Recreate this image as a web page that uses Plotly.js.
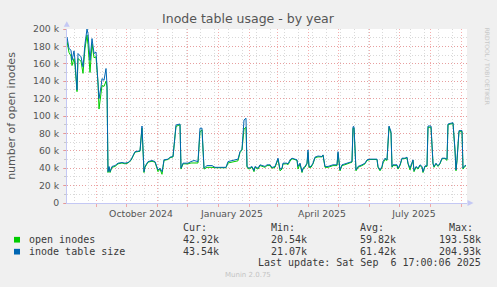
<!DOCTYPE html>
<html>
<head>
<meta charset="utf-8">
<script src="https://cdn.plot.ly/plotly-3.0.1.min.js"></script>
<style>html,body{margin:0;padding:0;background:#F0F0F0;}#chart{width:497px;height:287px;}</style>
</head>
<body>
<div id="chart"></div>
<script>
// ---- data (values in thousands) ----
const dates = [
'2024-08-03','2024-08-05','2024-08-07','2024-08-08','2024-08-10','2024-08-11','2024-08-13','2024-08-14','2024-08-17','2024-08-19',
'2024-08-21','2024-08-23','2024-08-24','2024-08-26','2024-08-28','2024-08-30','2024-09-01','2024-09-03','2024-09-04','2024-09-06',
'2024-09-07','2024-09-09','2024-09-11','2024-09-12','2024-09-13','2024-09-14','2024-09-15','2024-09-17','2024-09-20','2024-09-23',
'2024-09-27','2024-09-30','2024-10-03','2024-10-06','2024-10-08','2024-10-10','2024-10-15','2024-10-16','2024-10-17','2024-10-19',
'2024-10-20','2024-10-23','2024-10-27','2024-10-30','2024-11-01','2024-11-02','2024-11-04','2024-11-06','2024-11-07','2024-11-08',
'2024-11-12','2024-11-14','2024-11-17','2024-11-20','2024-11-24','2024-11-25','2024-11-27','2024-12-02','2024-12-05','2024-12-08',
'2024-12-12','2024-12-14','2024-12-16','2024-12-18','2024-12-21','2024-12-26','2024-12-29','2025-01-05','2025-01-09','2025-01-11',
'2025-01-16','2025-01-21','2025-01-23','2025-01-25','2025-01-27','2025-01-29','2025-01-30','2025-02-01','2025-02-04','2025-02-06',
'2025-02-07','2025-02-10','2025-02-12','2025-02-17','2025-02-19','2025-02-22','2025-02-24','2025-02-27','2025-03-02','2025-03-04',
'2025-03-06','2025-03-07','2025-03-11','2025-03-12','2025-03-14','2025-03-16','2025-03-21','2025-03-22','2025-03-24','2025-03-26',
'2025-03-27','2025-03-29','2025-03-31','2025-04-01','2025-04-02','2025-04-04','2025-04-06','2025-04-08','2025-04-11','2025-04-15',
'2025-04-16','2025-04-18','2025-04-21','2025-04-26','2025-04-30','2025-05-01','2025-05-03','2025-05-05','2025-05-08','2025-05-13',
'2025-05-15','2025-05-16','2025-05-17','2025-05-19','2025-05-21','2025-05-25','2025-05-28','2025-05-30','2025-06-02','2025-06-09',
'2025-06-10','2025-06-12','2025-06-14','2025-06-15','2025-06-17','2025-06-19','2025-06-20','2025-06-21','2025-06-23','2025-06-24',
'2025-06-25','2025-06-29','2025-06-30','2025-07-02','2025-07-04','2025-07-07','2025-07-09','2025-07-10','2025-07-12','2025-07-14',
'2025-07-15','2025-07-16','2025-07-18','2025-07-20','2025-07-22','2025-07-24','2025-07-25','2025-07-27','2025-07-29','2025-07-30',
'2025-08-02','2025-08-04','2025-08-05','2025-08-07','2025-08-09','2025-08-11','2025-08-13','2025-08-16','2025-08-18','2025-08-19',
'2025-08-23','2025-08-24','2025-08-26','2025-08-27','2025-08-28','2025-08-30','2025-09-02','2025-09-03','2025-09-04','2025-09-06'
];
const tableSize = [
190.8,177.5,175.6,164,174.8,164,130,171.8,168,156.5,
183,200,194.7,164,189,171.8,173.6,145,120,133.6,
143,141,154.6,135.5,36,42,36,42,43,45.8,
46.5,45.8,46.5,49.6,54,59,60,78,88.5,36,
42,47.6,48.8,47.6,42,38,40,36,42,49.6,
50.4,52.7,53.4,89.7,90.8,40,45.8,45.8,47.6,48.8,
47.6,86,86,40,43,43,41,41,41,47.6,
48.8,50.4,59,61.8,95.4,97.4,42,40,42,37.3,
42,40,43.9,42,43.9,43.9,40.8,42,51.5,38.9,
40,45.8,45.8,45,49.6,51.5,49.6,42,45.8,36,
40,42,45.8,61,42,42,45.8,52.7,54,53.4,
55.3,42,42,43.9,43.9,59,38,43.9,45,46.5,
47.6,87.7,87.7,38,42,43.9,45.8,49.6,50.4,50.4,
42,38,42,47.6,51.5,49.6,72.5,88.5,82,42,
43.9,43.9,40,43.9,51.5,51.5,52.7,45.8,40,45.8,
49.6,37.3,42,40,43.9,42,36,42.7,42.7,88.5,
88.5,45.8,42,45.8,42.7,45.8,51.5,51.5,50.4,90.8,
91.6,92.3,61,38,49.6,83.2,83.2,40,42,43.54
];
const openInodes = [
186,173,169,158,166,158,128,166,163,149,
178,193,182,150,183,167,168,138,108,127,
135,134,140,133,35,41,35,41,42,45,
46,45,46,49,53,58.5,59.5,76,86,35,
41,47,48,47,40,36,39,33,41,49,
50,52,53,88,90,39,45,45,46,46,
46,82,84,39,41,41,40.5,40.5,40.5,46,
47,48.5,58,61,85,87,41,39,41,36,
41,39,43,41,43,43,40,41,50,37,
39,45,45,44,48,51,49,39,45,35,
39,41,45,58,41,41,45,52,53,53,
55,41,41,43,43,57,37,43,44,46,
47,86,86,37,41,43,45,49,50,50,
41,37,41,46,50,49,70,87,80,41,
43,43,39,43,51,51,52,45,38,45,
49,36,41,39,43,41,35,42,42,87,
87,45,41,45,42,45,51,51,49,90,
91,91.5,60,37,49,82,82,39,41,42.92
];
const seriesNames = ['open inodes', 'inode table size'];
const seriesColors = ['#00CC00', '#0066B3'];
const statHeaders = ['Cur:', 'Min:', 'Avg:', 'Max:'];
const statsOpen = ['42.92k', '20.54k', '59.82k', '193.58k'];
const statsTable = ['43.54k', '21.07k', '61.42k', '204.93k'];
const yTickVals = [0,20,40,60,80,100,120,140,160,180,200];
const yTickText = ['0','20 k','40 k','60 k','80 k','100 k','120 k','140 k','160 k','180 k','200 k'];
const xLabelDates = ['2024-10-16','2025-01-15','2025-04-15','2025-07-16'];
const xLabelText = ['October 2024','January 2025','April 2025','July 2025'];
const monthStarts = ['2024-09-01','2024-10-01','2024-11-01','2024-12-01','2025-01-01','2025-02-01','2025-03-01',
  '2025-04-01','2025-05-01','2025-06-01','2025-07-01','2025-08-01','2025-09-01'];
const xRange = ['2024-08-03', '2025-09-07'];

// ---- layout helpers (pixel -> paper) ----
const L = 67, R = 467, T = 28.7, B = 203.3;
const PX = p => (p - L) / (R - L);
const PY = p => (B - p) / (B - T);

const majorGrid = 'rgba(240,120,120,0.6)';
const minorGrid = '#D9D9D9';
const axisCol = '#C4C8F4';
const txtCol = '#555555';
const mono = 'DejaVu Sans Mono, monospace';

const traces = [
  {x: dates, y: openInodes, xaxis: 'x', yaxis: 'y', type: 'scatter', mode: 'lines',
   line: {color: seriesColors[0], width: 1}, hoverinfo: 'skip'},
  {x: dates, y: tableSize, xaxis: 'x2', yaxis: 'y', type: 'scatter', mode: 'lines',
   line: {color: seriesColors[1], width: 1}, hoverinfo: 'skip'}
];

const ann = [];
function txt(t, x, y, opts) {
  ann.push(Object.assign({text: t, x: PX(x), y: PY(y), xref: 'paper', yref: 'paper',
    showarrow: false, xanchor: 'left', yanchor: 'middle',
    font: {family: mono, size: 10, color: '#3a3a3a'}}, opts || {}));
}
const colX = [181, 269.3, 358.3];
statHeaders.forEach((h, i) => txt(h, i < 3 ? colX[i] : 446.7, 227.7));
txt(seriesNames[0], 26.7, 240);
txt(seriesNames[1], 26.7, 251.7);
statsOpen.forEach((v, i) => i < 3 ? txt(v, colX[i], 240) : txt(v, 483, 240, {xanchor: 'right'}));
statsTable.forEach((v, i) => i < 3 ? txt(v, colX[i], 251.7) : txt(v, 483, 251.7, {xanchor: 'right'}));
txt('Last update: Sat Sep \u00A06 17:00:06 2025', 483, 263.3, {xanchor: 'right'});
txt('Munin 2.0.75', 248, 276, {xanchor: 'center', font: {family: 'DejaVu Sans', size: 7, color: '#C4C4C4'}});
txt('RRDTOOL / TOBI OETIKER', 487.5, 66, {xanchor: 'center', textangle: 90,
  font: {family: 'DejaVu Sans', size: 6, color: '#C8C8C8'}});

const shapes = [
  {type: 'rect', xref: 'paper', yref: 'paper', x0: PX(14), x1: PX(20), y0: PY(243), y1: PY(237.3),
   fillcolor: seriesColors[0], line: {width: 0}},
  {type: 'rect', xref: 'paper', yref: 'paper', x0: PX(14), x1: PX(20), y0: PY(255), y1: PY(249.3),
   fillcolor: seriesColors[1], line: {width: 0}},
  {type: 'path', xref: 'paper', yref: 'paper',
   path: `M ${PX(63.8)} ${PY(26.5)} L ${PX(69.8)} ${PY(26.5)} L ${PX(66.8)} ${PY(21)} Z`,
   fillcolor: axisCol, line: {width: 0}},
  {type: 'path', xref: 'paper', yref: 'paper',
   path: `M ${PX(467.5)} ${PY(200.3)} L ${PX(467.5)} ${PY(206.3)} L ${PX(473.5)} ${PY(203.3)} Z`,
   fillcolor: axisCol, line: {width: 0}}
];

const layout = {
  width: 497, height: 287,
  margin: {l: L, r: 497 - R, t: T, b: 287 - B, pad: 0},
  paper_bgcolor: '#F0F0F0', plot_bgcolor: '#FFFFFF',
  showlegend: false,
  font: {family: 'DejaVu Sans', size: 9.3, color: txtCol},
  title: {text: 'Inode table usage - by year', font: {family: 'DejaVu Sans', size: 12.5, color: '#555555'},
    x: 248 / 497, xref: 'container', xanchor: 'center', y: 1 - 19 / 287, yref: 'container', yanchor: 'middle'},
  xaxis: {type: 'date', range: xRange, tickmode: 'array', tickvals: xLabelDates, ticktext: xLabelText,
    showgrid: false, zeroline: false, ticks: '', showline: true, linecolor: axisCol, linewidth: 1,
    tickfont: {size: 9.3, color: txtCol}, ticklabelstandoff: 2,
    minor: {tickvals: monthStarts, showgrid: true, gridcolor: majorGrid, griddash: '1px,2px', gridwidth: 1,
      ticks: 'outside', ticklen: 3, tickcolor: majorGrid, tickwidth: 1},
    fixedrange: true},
  xaxis2: {type: 'date', range: xRange, matches: 'x', overlaying: 'x', side: 'bottom',
    tick0: '2024-08-10', dtick: 14 * 86400000, showticklabels: false, ticks: '',
    showgrid: true, gridcolor: minorGrid, griddash: '1px,2px', gridwidth: 1, zeroline: false, showline: false},
  yaxis: {range: [0, 200], tickmode: 'array', tickvals: yTickVals, ticktext: yTickText,
    showgrid: true, gridcolor: majorGrid, griddash: '1px,2px', gridwidth: 1, zeroline: false,
    showline: true, linecolor: axisCol, linewidth: 1,
    ticks: 'outside', ticklen: 3, tickcolor: majorGrid, tickwidth: 1, ticklabelstandoff: 2,
    tickfont: {size: 9.3, color: txtCol},
    minor: {dtick: 10, showgrid: true, gridcolor: minorGrid, griddash: '1px,2px', ticks: 'outside', ticklen: 2, tickcolor: '#C8C8C8'},
    title: {text: 'number of open inodes', font: {size: 11, color: txtCol}, standoff: 15},
    fixedrange: true},
  annotations: ann,
  shapes: shapes
};

Plotly.newPlot('chart', traces, layout, {displayModeBar: false, staticPlot: true});
</script>
</body>
</html>
